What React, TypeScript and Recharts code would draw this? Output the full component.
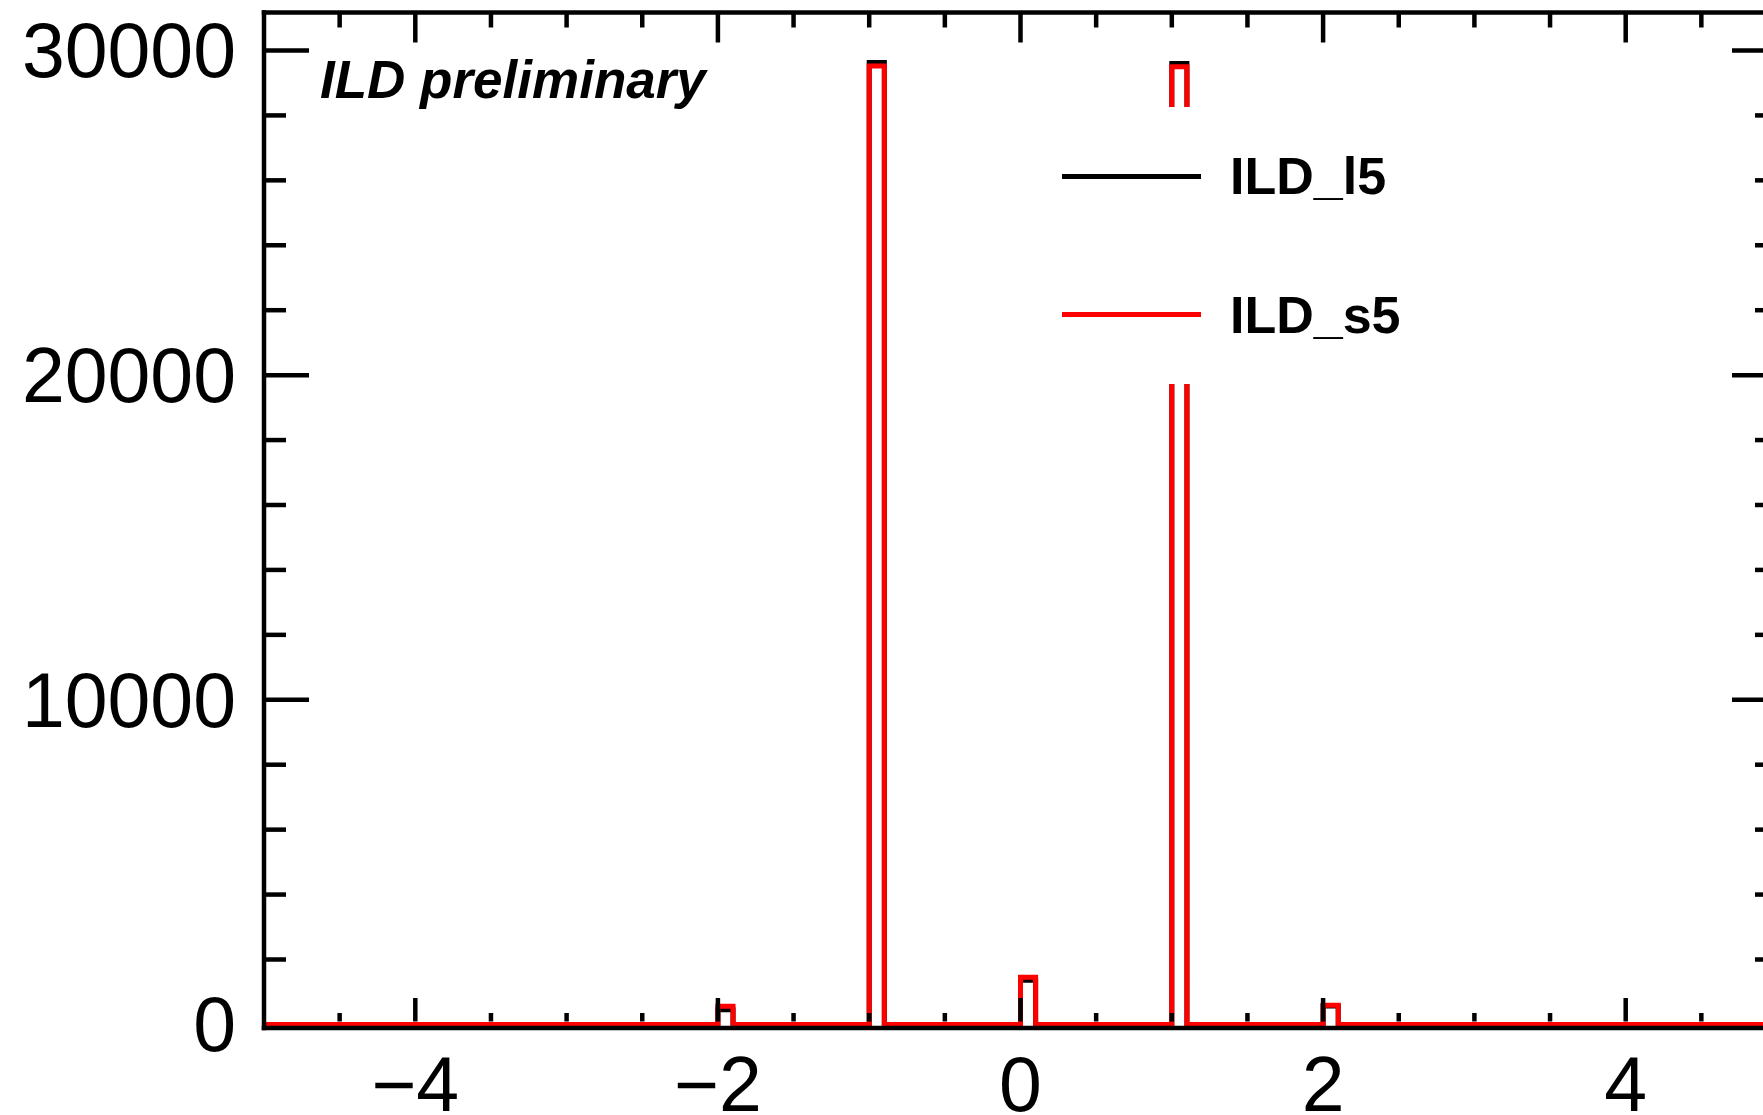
import { LineChart, Line, XAxis, YAxis, Legend } from "recharts";

// 100 bins of width 0.1 on [-5, 5]; only the filled bins are listed, every other bin is empty
const xMin = -5;
const xMax = 5;
const binWidth = 0.1;
const filledBinLow = [-2.0, -1.0, 0.0, 1.0, 2.0];
const countsL5 = [450, 29630, 1360, 29600, 570];
const countsS5 = [560, 29520, 1450, 29500, 590];

const xTicks = [-4.5, -4, -3.5, -3, -2.5, -2, -1.5, -1, -0.5, 0, 0.5, 1, 1.5, 2, 2.5, 3, 3.5, 4, 4.5];
const xLabelled = [-4, -2, 0, 2, 4];
const yTicks = [0, 2000, 4000, 6000, 8000, 10000, 12000, 14000, 16000, 18000, 20000, 22000, 24000, 26000, 28000, 30000];
const yLabelled = [0, 10000, 20000, 30000];
const yDomain = [-110, 31170];

const FONT = '"Liberation Sans", Arial, Helvetica, sans-serif';

// step points at the bin edges, value holds until the next edge
const edges: number[] = [xMin];
filledBinLow.forEach((lo) => edges.push(lo, +(lo + binWidth).toFixed(2)));
edges.push(xMax);
const data = edges.map((x) => {
  const i = filledBinLow.findIndex((lo) => Math.abs(lo - x) < 1e-9);
  return { x, l5: i >= 0 ? countsL5[i] : 0, s5: i >= 0 ? countsS5[i] : 0 };
});

const fmt = (v: number) => (v < 0 ? `\u2212${-v}` : `${v}`);

// the zero tick mark sits under the histogram baseline, so only its label is drawn
const LeftTick = ({ x, y, payload }: any) => {
  const major = yLabelled.includes(payload.value);
  return (
    <g>
      {payload.value !== 0 && (
        <line x1={x} x2={x + (major ? 45 : 22)} y1={y} y2={y} stroke="#000" strokeWidth={4.5} />
      )}
      {major && (
        <text x={x - 28} y={y} dy={27} textAnchor="end" fontSize={77} fontFamily={FONT} fill="#000">
          {fmt(payload.value)}
        </text>
      )}
    </g>
  );
};

const RightTick = ({ x, y, payload }: any) => {
  if (payload.value === 0) return <g />;
  const major = yLabelled.includes(payload.value);
  return <line x1={x} x2={x - (major ? 45 : 22)} y1={y} y2={y} stroke="#000" strokeWidth={4.5} />;
};

const BottomTick = ({ x, y, payload }: any) => {
  const major = xLabelled.includes(payload.value);
  return (
    <g>
      <line x1={x} x2={x} y1={y - 6.5} y2={y - (major ? 30 : 15)} stroke="#000" strokeWidth={4.5} />
      {major && (
        <text x={x} y={y} dy={83} textAnchor="middle" fontSize={77} fontFamily={FONT} fill="#000">
          {fmt(payload.value)}
        </text>
      )}
    </g>
  );
};

const TopTick = ({ x, y, payload }: any) => {
  const major = xLabelled.includes(payload.value);
  return <line x1={x} x2={x} y1={y} y2={y + (major ? 30 : 15)} stroke="#000" strokeWidth={4.5} />;
};

const LegendBox = ({ payload }: any) => (
  <div style={{ background: "#fff", width: 410, height: 277, display: "flex", flexDirection: "column" }}>
    {(payload || []).map((e: any) => (
      <div key={e.value} style={{ height: 138.5, display: "flex", alignItems: "center" }}>
        <div style={{ marginLeft: 22, width: 139, height: 5, background: e.color }} />
        <span style={{ marginLeft: 29, fontFamily: FONT, fontWeight: "bold", fontSize: 52, lineHeight: 1, color: "#000" }}>
          {e.value}
        </span>
      </div>
    ))}
  </div>
);

const frame = { stroke: "#000", strokeWidth: 4.5, strokeLinecap: "square" as const };

export default function App() {
  return (
    <div style={{ position: "absolute", left: 0, top: 0, width: 1763, height: 1115, overflow: "hidden", background: "#fff" }}>
      <div style={{ position: "relative", width: 1800, height: 1115 }}>
        <LineChart width={1800} height={1115} data={data} margin={{ top: 11.5, right: 22, bottom: 0, left: 0 }}>
          <XAxis
            dataKey="x"
            type="number"
            domain={[xMin, xMax]}
            ticks={xTicks}
            interval={0}
            allowDataOverflow
            height={87}
            tickSize={0}
            tickMargin={0}
            tickLine={false}
            axisLine={frame}
            tick={<BottomTick />}
          />
          <XAxis
            xAxisId="top"
            orientation="top"
            dataKey="x"
            type="number"
            domain={[xMin, xMax]}
            ticks={xTicks}
            interval={0}
            allowDataOverflow
            height={1}
            tickSize={0}
            tickMargin={0}
            tickLine={false}
            axisLine={frame}
            tick={<TopTick />}
          />
          <YAxis
            type="number"
            domain={yDomain}
            ticks={yTicks}
            interval={0}
            allowDataOverflow
            width={264}
            tickSize={0}
            tickMargin={0}
            tickLine={false}
            axisLine={frame}
            tick={<LeftTick />}
          />
          <YAxis
            yAxisId="right"
            orientation="right"
            type="number"
            domain={yDomain}
            ticks={yTicks}
            interval={0}
            allowDataOverflow
            width={1}
            tickSize={0}
            tickMargin={0}
            tickLine={false}
            axisLine={frame}
            tick={<RightTick />}
          />
          <Line
            name="ILD_l5"
            dataKey="l5"
            type="stepAfter"
            stroke="#000000"
            strokeWidth={5}
            dot={false}
            activeDot={false}
            isAnimationActive={false}
          />
          <Line
            name="ILD_s5"
            dataKey="s5"
            type="stepAfter"
            stroke="#ff0000"
            strokeWidth={5}
            dot={false}
            activeDot={false}
            isAnimationActive={false}
          />
          <Legend
            layout="vertical"
            align="center"
            verticalAlign="middle"
            content={<LegendBox />}
            wrapperStyle={{ left: 1040, top: 107, width: 410, height: 277 }}
          />
        </LineChart>
        <div
          style={{
            position: "absolute",
            left: 320,
            top: 52.5,
            fontFamily: FONT,
            fontWeight: "bold",
            fontStyle: "italic",
            fontSize: 53,
            lineHeight: 1,
            color: "#000",
            whiteSpace: "nowrap",
          }}
        >
          ILD preliminary
        </div>
      </div>
    </div>
  );
}
